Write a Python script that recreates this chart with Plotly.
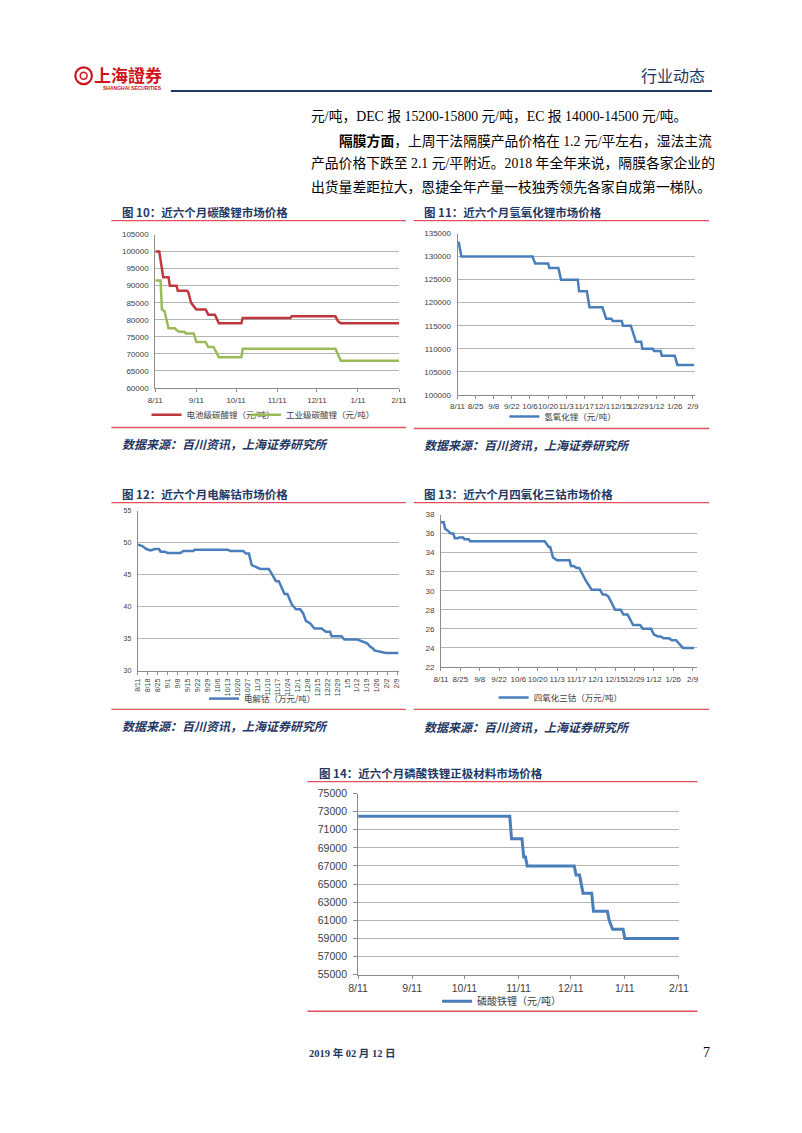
import plotly.graph_objects as go

W, H = 802, 1133

# ---- 图10 碳酸锂（元/吨）----
li2co3_batt_dates = ['2018-08-11', '2018-08-14', '2018-08-17', '2018-08-21', '2018-08-22',
                     '2018-08-27', '2018-08-28', '2018-09-04', '2018-09-05', '2018-09-07',
                     '2018-09-09', '2018-09-11', '2018-09-18', '2018-09-20', '2018-09-25',
                     '2018-09-28', '2018-10-15', '2018-10-16', '2018-11-21', '2018-11-22',
                     '2018-12-25', '2018-12-27', '2018-12-29', '2019-02-11']
li2co3_batt = [100000, 100000, 92500, 92500, 90000, 90000, 88500, 88500, 88000, 85000,
               84000, 83000, 83000, 81500, 81500, 79000, 79000, 80500, 80500, 81000,
               81000, 79500, 79000, 79000]

li2co3_ind_dates = ['2018-08-11', '2018-08-15', '2018-08-16', '2018-08-18', '2018-08-21',
                    '2018-08-26', '2018-08-27', '2018-08-29', '2018-09-02', '2018-09-03',
                    '2018-09-09', '2018-09-11', '2018-09-18', '2018-09-20', '2018-09-24',
                    '2018-09-28', '2018-10-15', '2018-10-16', '2018-12-25', '2018-12-29',
                    '2019-02-11']
li2co3_ind = [91500, 91500, 83000, 82500, 77500, 77500, 77000, 76500, 76500, 76000,
              76000, 73500, 73500, 72000, 72000, 69000, 69000, 71500, 71500, 68000, 68000]

# ---- 图11 氢氧化锂（元/吨）----
lioh_dates = ['2018-08-11', '2018-08-12', '2018-08-14', '2018-10-08', '2018-10-10',
              '2018-10-20', '2018-10-21', '2018-10-28', '2018-10-30', '2018-11-12',
              '2018-11-13', '2018-11-19', '2018-11-21', '2018-12-01', '2018-12-04',
              '2018-12-08', '2018-12-09', '2018-12-16', '2018-12-17', '2018-12-23',
              '2018-12-27', '2018-12-31', '2019-01-01', '2019-01-09', '2019-01-10',
              '2019-01-15', '2019-01-16', '2019-01-26', '2019-01-28', '2019-02-10']
lioh = [133000, 133000, 130000, 130000, 128500, 128500, 127500, 127500, 125000, 125000,
        122500, 122500, 119000, 119000, 116500, 116500, 116000, 116000, 115000, 115000,
        111500, 111500, 110000, 110000, 109500, 109500, 108500, 108500, 106500, 106500]

# ---- 图12 电解钴（万元/吨）----
cobalt_dates = ['2018-08-11', '2018-08-14', '2018-08-17', '2018-08-20', '2018-08-23',
                '2018-08-26', '2018-08-27', '2018-08-30', '2018-09-01', '2018-09-10',
                '2018-09-12', '2018-09-19', '2018-09-20', '2018-10-13', '2018-10-15',
                '2018-10-24', '2018-10-26', '2018-10-28', '2018-10-30', '2018-11-02',
                '2018-11-05', '2018-11-11', '2018-11-14', '2018-11-16', '2018-11-18',
                '2018-11-22', '2018-11-24', '2018-11-27', '2018-11-30', '2018-12-03',
                '2018-12-05', '2018-12-07', '2018-12-10', '2018-12-13', '2018-12-18',
                '2018-12-21', '2018-12-24', '2018-12-25', '2019-01-01', '2019-01-03',
                '2019-01-12', '2019-01-16', '2019-01-19', '2019-01-21', '2019-01-23',
                '2019-01-24', '2019-01-28', '2019-02-01', '2019-02-10']
cobalt = [49.7, 49.5, 49.0, 48.8, 49.0, 49.0, 48.6, 48.6, 48.4, 48.4,
          48.7, 48.7, 48.9, 48.9, 48.7, 48.7, 48.3, 48.3, 46.5, 46.2,
          45.9, 45.9, 44.8, 44.0, 44.0, 42.0, 42.0, 40.4, 39.6, 39.6,
          39.0, 37.8, 37.4, 36.6, 36.6, 36.1, 36.1, 35.4, 35.4, 34.9,
          34.9, 34.6, 34.3, 33.8, 33.5, 33.2, 33.0, 32.8, 32.8]

# ---- 图13 四氧化三钴（万元/吨）----
co3o4_dates = ['2018-08-11', '2018-08-13', '2018-08-14', '2018-08-16', '2018-08-18',
               '2018-08-20', '2018-08-21', '2018-08-23', '2018-08-24', '2018-08-27',
               '2018-08-28', '2018-08-31', '2018-09-01', '2018-10-25', '2018-10-28',
               '2018-10-29', '2018-10-31', '2018-11-03', '2018-11-12', '2018-11-13',
               '2018-11-15', '2018-11-17', '2018-11-19', '2018-11-22', '2018-11-24',
               '2018-11-28', '2018-12-04', '2018-12-06', '2018-12-08', '2018-12-10',
               '2018-12-12', '2018-12-15', '2018-12-19', '2018-12-21', '2018-12-24',
               '2018-12-28', '2019-01-02', '2019-01-04', '2019-01-10', '2019-01-12',
               '2019-01-15', '2019-01-17', '2019-01-19', '2019-01-23', '2019-01-25',
               '2019-01-28', '2019-02-02', '2019-02-10']
co3o4 = [37.2, 37.2, 36.5, 36.3, 36.0, 36.0, 35.5, 35.5, 35.6, 35.6,
         35.4, 35.4, 35.2, 35.2, 34.6, 34.6, 33.5, 33.2, 33.2, 32.6,
         32.6, 32.4, 32.4, 31.5, 31.0, 30.1, 30.1, 29.6, 29.6, 29.4,
         28.8, 28.0, 28.0, 27.5, 27.5, 26.4, 26.4, 26.0, 26.0, 25.4,
         25.2, 25.2, 25.0, 25.0, 24.8, 24.8, 24.0, 24.0]

# ---- 图14 磷酸铁锂（元/吨）----
lfp_dates = ['2018-08-11', '2018-11-06', '2018-11-07', '2018-11-13', '2018-11-14',
             '2018-11-15', '2018-11-16', '2018-12-13', '2018-12-14', '2018-12-16',
             '2018-12-18', '2018-12-23', '2018-12-24', '2019-01-01', '2019-01-02',
             '2019-01-04', '2019-01-10', '2019-01-11', '2019-02-11']
lfp = [72500, 72500, 70000, 70000, 68000, 68000, 67000, 67000, 66000, 66000,
       64000, 64000, 62000, 62000, 61000, 60000, 60000, 59000, 59000]

# tick labels
monthly_ticks = ['2018-08-11', '2018-09-11', '2018-10-11', '2018-11-11', '2018-12-11',
                 '2019-01-11', '2019-02-11']
monthly_labels = ['8/11', '9/11', '10/11', '11/11', '12/11', '1/11', '2/11']
biweekly_ticks = ['2018-08-11', '2018-08-25', '2018-09-08', '2018-09-22', '2018-10-06',
                  '2018-10-20', '2018-11-03', '2018-11-17', '2018-12-01', '2018-12-15',
                  '2018-12-29', '2019-01-12', '2019-01-26', '2019-02-09']
biweekly_labels = ['8/11', '8/25', '9/8', '9/22', '10/6', '10/20', '11/3', '11/17',
                   '12/1', '12/15', '12/29', '1/12', '1/26', '2/9']
weekly_ticks = ['2018-08-11', '2018-08-18', '2018-08-25', '2018-09-01', '2018-09-08',
                '2018-09-15', '2018-09-22', '2018-09-29', '2018-10-06', '2018-10-13',
                '2018-10-20', '2018-10-27', '2018-11-03', '2018-11-10', '2018-11-17',
                '2018-11-24', '2018-12-01', '2018-12-08', '2018-12-15', '2018-12-22',
                '2018-12-29', '2019-01-05', '2019-01-12', '2019-01-19', '2019-01-26',
                '2019-02-02', '2019-02-09']
weekly_labels = ['8/11', '8/18', '8/25', '9/1', '9/8', '9/15', '9/22', '9/29', '10/6',
                 '10/13', '10/20', '10/27', '11/3', '11/10', '11/17', '11/24', '12/1',
                 '12/8', '12/15', '12/22', '12/29', '1/5', '1/12', '1/19', '1/26',
                 '2/2', '2/9']

FONT = 'Liberation Sans, Noto Sans CJK SC, sans-serif'
CJK = 'Noto Sans CJK SC, sans-serif'
SERIF = 'Liberation Serif, Noto Sans CJK SC, serif'
NAVY = '#1f3864'
RULE = '#e0505e'
GRID = '#b4b4b4'
AXIS = '#8c8c8c'
TICK = '#404040'
RED = '#c0373f'
GREEN = '#9bbb59'
BLUE = '#4a7ebb'


def fx(px):
    return px / W


def fy(py):
    return 1 - py / H


def axes(n, box, xrange, yrange, ydtick, tickvals, ticktext, size=8, angle=0, yticks=''):
    left, top, right, bottom = box
    suffix = '' if n == 1 else str(n)
    xa = dict(domain=[fx(left), fx(right)], range=xrange, type='date', anchor='y' + suffix,
              tickvals=tickvals, ticktext=ticktext, tickangle=angle,
              showgrid=False, showline=True, linecolor=AXIS, linewidth=1,
              ticks='outside', ticklen=3, tickcolor=AXIS, ticklabelstandoff=1,
              tickfont=dict(family=FONT, size=size, color=TICK))
    ya = dict(domain=[fy(bottom), fy(top)], range=yrange, dtick=ydtick, tick0=yrange[0],
              tickformat='d', anchor='x' + suffix, showgrid=True, gridcolor=GRID,
              gridwidth=1, showline=True, linecolor=AXIS, linewidth=1, zeroline=False,
              ticks=yticks, ticklen=4, tickcolor=AXIS, ticklabelstandoff=4,
              tickfont=dict(family=FONT, size=size, color=TICK))
    return {'xaxis' + suffix: xa, 'yaxis' + suffix: ya}


def legend_at(text_x, y, size=8.5):
    return dict(x=fx(text_x - 40), y=fy(y), xanchor='left', yanchor='middle',
                orientation='h', bgcolor='rgba(0,0,0,0)', itemwidth=30,
                font=dict(family=CJK, size=size, color=TICK))


fig = go.Figure()

fig.add_trace(go.Scatter(x=li2co3_batt_dates, y=li2co3_batt, name='电池级碳酸锂（元/吨）',
                         mode='lines', line=dict(color=RED, width=2.5),
                         xaxis='x', yaxis='y', legend='legend'))
fig.add_trace(go.Scatter(x=li2co3_ind_dates, y=li2co3_ind, name='工业级碳酸锂（元/吨）',
                         mode='lines', line=dict(color=GREEN, width=2.5),
                         xaxis='x', yaxis='y', legend='legend2'))
fig.add_trace(go.Scatter(x=lioh_dates, y=lioh, name='氢氧化锂（元/吨）',
                         mode='lines', line=dict(color=BLUE, width=2.5),
                         xaxis='x2', yaxis='y2', legend='legend3'))
fig.add_trace(go.Scatter(x=cobalt_dates, y=cobalt, name='电解钴（万元/吨）',
                         mode='lines', line=dict(color=BLUE, width=2.5),
                         xaxis='x3', yaxis='y3', legend='legend4'))
fig.add_trace(go.Scatter(x=co3o4_dates, y=co3o4, name='四氧化三钴（万元/吨）',
                         mode='lines', line=dict(color=BLUE, width=2.5),
                         xaxis='x4', yaxis='y4', legend='legend5'))
fig.add_trace(go.Scatter(x=lfp_dates, y=lfp, name='磷酸铁锂（元/吨）',
                         mode='lines', line=dict(color=BLUE, width=3),
                         xaxis='x5', yaxis='y5', legend='legend6'))

layout_axes = {}
layout_axes.update(axes(1, (149, 231, 399, 386), ['2018-08-11', '2019-02-11'],
                        [60000, 105000], 5000, monthly_ticks, monthly_labels))
layout_axes.update(axes(2, (459, 230, 703, 393), ['2018-08-11', '2019-02-11'],
                        [100000, 135000], 5000, biweekly_ticks, biweekly_labels))
layout_axes.update(axes(3, (131, 510, 398.5, 672), ['2018-08-11', '2019-02-10'],
                        [30, 55], 5, weekly_ticks, weekly_labels, size=7, angle=-90))
layout_axes.update(axes(4, (442, 514, 704.3, 668), ['2018-08-11', '2019-02-12'],
                        [22, 38], 2, biweekly_ticks, biweekly_labels))
layout_axes.update(axes(5, (357, 796, 686, 979), ['2018-08-11', '2019-02-11'],
                        [55000, 75000], 2000, monthly_ticks, monthly_labels,
                        size=10.5, yticks='outside'))

annotations = []


def text(px, py, s, size, color='#000000', family=CJK, weight='normal', style='normal',
         anchor='left'):
    annotations.append(dict(x=fx(px), y=fy(py), xref='paper', yref='paper', text=s,
                            showarrow=False, xanchor=anchor, yanchor='middle',
                            font=dict(family=family, size=size, color=color,
                                      weight=weight, style=style)))


# chart titles
for px, py, s in [(113, 208, '图 10：近六个月碳酸锂市场价格'),
                  (423, 208, '图 11：近六个月氢氧化锂市场价格'),
                  (113, 493, '图 12：近六个月电解钴市场价格'),
                  (423, 493, '图 13：近六个月四氧化三钴市场价格'),
                  (315, 775, '图 14：近六个月磷酸铁锂正极材料市场价格')]:
    text(px, py, s, 11.5, color=NAVY, weight='bold')

# data source lines
for px, py in [(113, 442), (423, 443), (113, 727), (423, 728)]:
    text(px, py, '数据来源：百川资讯，上海证券研究所', 12, color=NAVY, weight='bold',
         style='italic')

# body text
text(307, 112, '元/吨，DEC 报 15200-15800 元/吨，EC 报 14000-14500 元/吨。', 13.8, family=SERIF)
text(335, 136, '<b>隔膜方面</b>，上周干法隔膜产品价格在 1.2 元/平左右，湿法主流', 13.8, family=SERIF)
text(307, 159, '产品价格下跌至 2.1 元/平附近。2018 年全年来说，隔膜各家企业的', 13.8, family=SERIF)
text(307, 183, '出货量差距拉大，恩捷全年产量一枝独秀领先各家自成第一梯队。', 13.8, family=SERIF)

# header
text(715, 70, '行业动态', 16, color=NAVY, anchor='right')
text(121, 69, '上海證券', 17, color='#d0121b', weight='bold', anchor='center')
text(126, 83, 'SHANGHAI SECURITIES', 5, color='#d0121b', family=FONT, weight='bold',
     anchor='center')

# footer
text(305, 1058, '2019 年 02 月 12 日', 10.5, color=NAVY, family=SERIF, weight='bold')
text(720, 1058, '7', 14, family=SERIF, anchor='right')

shapes = []
for x0, x1, py in [(104, 406, 217), (104, 406, 426), (414, 717, 217), (414, 717, 427),
                   (104, 406, 502), (104, 406, 711), (414, 717, 502), (414, 717, 711),
                   (305, 705, 784), (305, 705, 1016)]:
    shapes.append(dict(type='line', xref='paper', yref='paper', x0=fx(x0), x1=fx(x1),
                       y0=fy(py), y1=fy(py), line=dict(color=RULE, width=1.3)))
shapes.append(dict(type='line', xref='paper', yref='paper', x0=fx(165), x1=fx(720),
                   y0=fy(86), y1=fy(86), line=dict(color=NAVY, width=2)))
shapes.append(dict(type='circle', xref='paper', yref='paper', x0=fx(67), x1=fx(84),
                   y0=fy(79), y1=fy(62), line=dict(color='#d0121b', width=2.2)))
shapes.append(dict(type='circle', xref='paper', yref='paper', x0=fx(72), x1=fx(79),
                   y0=fy(74), y1=fy(67), line=dict(color='#d0121b', width=1.5)))

fig.update_layout(
    width=W, height=H,
    margin=dict(l=0, r=0, t=0, b=0),
    paper_bgcolor='white', plot_bgcolor='white',
    showlegend=True,
    legend=legend_at(180, 413),
    legend2=legend_at(282, 413),
    legend3=legend_at(547, 415),
    legend4=legend_at(239, 700),
    legend5=legend_at(536, 699),
    legend6=legend_at(478, 1006, size=10),
    annotations=annotations,
    shapes=shapes,
    **layout_axes
)

# page body has a default 8px margin; drop it so the figure sits at the window origin
fig.write_html("out.html", config={'displayModeBar': False},
               post_script="document.body.style.margin='0';")
